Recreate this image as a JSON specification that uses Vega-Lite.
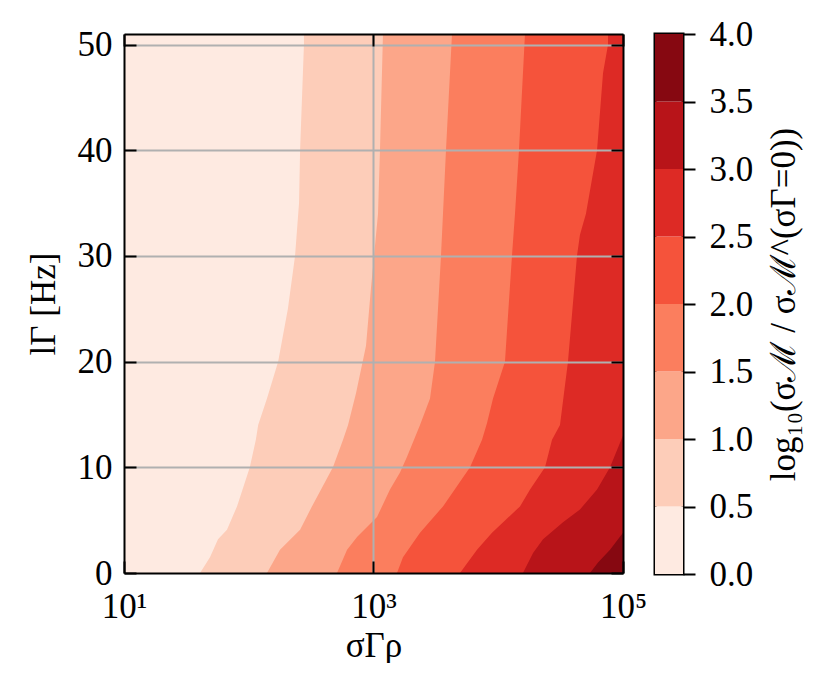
{
  "$schema": "https://vega.github.io/schema/vega-lite/v6.json",
  "padding": {"left": 26, "top": 15, "right": 0, "bottom": 0},
  "background": "white",
  "config": {
    "font": "Liberation Serif",
    "axis": {
      "labelFontSize": 35, "titleFontSize": 35, "labelColor": "black", "titleColor": "black",
      "tickColor": "black", "tickWidth": 2, "titleFontWeight": "normal",
      "gridColor": "#b0b0b0", "gridWidth": 2, "gridOpacity": 1,
      "domainColor": "black", "domainWidth": 2, "labelOverlap": false, "labelFlush": false
    }
  },
  "datasets": {
    "contours": [
      {"level": 0.5, "l": 0, "s": 40.7}, {"level": 0.5, "l": 1.5, "s": 48.9}, {"level": 0.5, "l": 3.2, "s": 56.7},
      {"level": 0.5, "l": 4.1, "s": 66.9}, {"level": 0.5, "l": 6.3, "s": 80.5}, {"level": 0.5, "l": 10, "s": 102},
      {"level": 0.5, "l": 12.6, "s": 114}, {"level": 0.5, "l": 14, "s": 119}, {"level": 0.5, "l": 16.5, "s": 140},
      {"level": 0.5, "l": 20, "s": 172}, {"level": 0.5, "l": 25, "s": 206}, {"level": 0.5, "l": 30, "s": 235},
      {"level": 0.5, "l": 35, "s": 253}, {"level": 0.5, "l": 40, "s": 258}, {"level": 0.5, "l": 50, "s": 277},
      {"level": 0.5, "l": 51, "s": 277},
      {"level": 1.0, "l": 0, "s": 140}, {"level": 1.0, "l": 2.2, "s": 178}, {"level": 1.0, "l": 4.1, "s": 258},
      {"level": 1.0, "l": 6.3, "s": 321}, {"level": 1.0, "l": 10, "s": 473}, {"level": 1.0, "l": 12.6, "s": 570},
      {"level": 1.0, "l": 14, "s": 625}, {"level": 1.0, "l": 17, "s": 724}, {"level": 1.0, "l": 21.5, "s": 871},
      {"level": 1.0, "l": 27, "s": 955}, {"level": 1.0, "l": 34, "s": 1087}, {"level": 1.0, "l": 40, "s": 1127},
      {"level": 1.0, "l": 51, "s": 1191},
      {"level": 1.5, "l": 0, "s": 510}, {"level": 1.5, "l": 2.2, "s": 614}, {"level": 1.5, "l": 3.4, "s": 738},
      {"level": 1.5, "l": 5.3, "s": 1067}, {"level": 1.5, "l": 7.9, "s": 1356}, {"level": 1.5, "l": 9.5, "s": 1631},
      {"level": 1.5, "l": 11, "s": 1857}, {"level": 1.5, "l": 14, "s": 2360}, {"level": 1.5, "l": 16.5, "s": 2838},
      {"level": 1.5, "l": 20, "s": 3112}, {"level": 1.5, "l": 30, "s": 3475}, {"level": 1.5, "l": 34, "s": 3606},
      {"level": 1.5, "l": 40, "s": 3811}, {"level": 1.5, "l": 51, "s": 4259},
      {"level": 2.0, "l": 0, "s": 1543}, {"level": 2.0, "l": 1.5, "s": 1723}, {"level": 2.0, "l": 3.8, "s": 2360},
      {"level": 2.0, "l": 6.3, "s": 3606}, {"level": 2.0, "l": 10, "s": 5940}, {"level": 2.0, "l": 12.6, "s": 7413},
      {"level": 2.0, "l": 14.2, "s": 8130}, {"level": 2.0, "l": 16.5, "s": 9080}, {"level": 2.0, "l": 20, "s": 11320},
      {"level": 2.0, "l": 30, "s": 12880}, {"level": 2.0, "l": 34, "s": 13620}, {"level": 2.0, "l": 40, "s": 14660},
      {"level": 2.0, "l": 51, "s": 16380},
      {"level": 2.5, "l": 0, "s": 4935}, {"level": 2.5, "l": 2.2, "s": 6760}, {"level": 2.5, "l": 3.8, "s": 8913},
      {"level": 2.5, "l": 6.3, "s": 14930}, {"level": 2.5, "l": 7.9, "s": 17990}, {"level": 2.5, "l": 10, "s": 23710},
      {"level": 2.5, "l": 12.6, "s": 26980}, {"level": 2.5, "l": 14, "s": 31260}, {"level": 2.5, "l": 17, "s": 33650},
      {"level": 2.5, "l": 20, "s": 36220}, {"level": 2.5, "l": 30, "s": 42760}, {"level": 2.5, "l": 32, "s": 45190},
      {"level": 2.5, "l": 34, "s": 50470}, {"level": 2.5, "l": 40, "s": 61940}, {"level": 2.5, "l": 47.3, "s": 69180},
      {"level": 2.5, "l": 50, "s": 75860}, {"level": 2.5, "l": 51, "s": 75860},
      {"level": 3.0, "l": 0, "s": 15780}, {"level": 3.0, "l": 1.9, "s": 19010}, {"level": 3.0, "l": 3.2, "s": 22860},
      {"level": 3.0, "l": 4.8, "s": 33040}, {"level": 3.0, "l": 6.0, "s": 45190}, {"level": 3.0, "l": 7.9, "s": 61940},
      {"level": 3.0, "l": 10, "s": 78700}, {"level": 3.0, "l": 13, "s": 100000},
      {"level": 3.5, "l": 0, "s": 54330}, {"level": 3.5, "l": 1.0, "s": 63100}, {"level": 3.5, "l": 2.2, "s": 78700},
      {"level": 3.5, "l": 3.8, "s": 100000}
    ],
    "bands": [
      {"lo": 0.0, "hi": 0.5}, {"lo": 0.5, "hi": 1.0}, {"lo": 1.0, "hi": 1.5}, {"lo": 1.5, "hi": 2.0},
      {"lo": 2.0, "hi": 2.5}, {"lo": 2.5, "hi": 3.0}, {"lo": 3.0, "hi": 3.5}, {"lo": 3.5, "hi": 4.0}
    ]
  },
  "spacing": 6,
  "hconcat": [
    {
      "width": 499,
      "height": 539,
      "view": {"fill": "#feeae1", "stroke": null},
      "data": {"name": "contours"},
      "resolve": {"axis": {"x": "independent", "y": "independent"}},
      "layer": [
        {
          "transform": [{"filter": "datum.level == 0.5"}],
          "mark": {"type": "area", "orient": "horizontal", "color": "#fdcdb9", "clip": true},
          "encoding": {
            "y": {"field": "l", "type": "quantitative", "scale": {"domain": [0, 51], "nice": false, "zero": false},
              "axis": {"orient": "left", "values": [0, 10, 20, 30, 40, 50], "tickSize": -12, "labelPadding": 24,
                "grid": true, "gridColor": {"condition": {"test": "datum.value > 0", "value": "#b0b0b0"}, "value": "transparent"},
                "domain": true, "title": "lΓ [Hz]", "titlePadding": 16, "zindex": 1}},
            "x": {"field": "s", "type": "quantitative", "stack": null,
              "scale": {"type": "log", "domain": [10, 100000], "nice": false},
              "axis": {"orient": "bottom", "values": [10, 1000, 100000],
                "labelExpr": "datum.value == 10 ? '10¹' : (datum.value == 1000 ? '10³' : '10⁵')",
                "tickSize": -12, "labelPadding": 28, "grid": true,
                "gridColor": {"condition": {"test": "datum.value == 1000", "value": "#b0b0b0"}, "value": "transparent"},
                "domain": true, "title": "σΓρ", "titlePadding": 4, "zindex": 1}},
            "x2": {"datum": 100000}
          }
        },
        {
          "transform": [{"filter": "datum.level == 1.0"}],
          "mark": {"type": "area", "orient": "horizontal", "color": "#fca689", "clip": true},
          "encoding": {
            "y": {"field": "l", "type": "quantitative",
              "axis": {"orient": "right", "values": [0, 10, 20, 30, 40, 50], "tickSize": -12, "labels": false,
                "grid": false, "domain": true, "title": null, "zindex": 1}},
            "x": {"field": "s", "type": "quantitative", "stack": null,
              "axis": {"orient": "top", "values": [10, 1000, 100000], "tickSize": -12, "labels": false,
                "grid": false, "domain": true, "title": null, "zindex": 1}},
            "x2": {"datum": 100000}
          }
        },
        {
          "transform": [{"filter": "datum.level == 1.5"}],
          "mark": {"type": "area", "orient": "horizontal", "color": "#fb7e5e", "clip": true},
          "encoding": {
            "y": {"field": "l", "type": "quantitative", "axis": null},
            "x": {"field": "s", "type": "quantitative", "stack": null, "axis": null},
            "x2": {"datum": 100000}
          }
        },
        {
          "transform": [{"filter": "datum.level == 2.0"}],
          "mark": {"type": "area", "orient": "horizontal", "color": "#f5533b", "clip": true},
          "encoding": {
            "y": {"field": "l", "type": "quantitative", "axis": null},
            "x": {"field": "s", "type": "quantitative", "stack": null, "axis": null},
            "x2": {"datum": 100000}
          }
        },
        {
          "transform": [{"filter": "datum.level == 2.5"}],
          "mark": {"type": "area", "orient": "horizontal", "color": "#dd2a25", "clip": true},
          "encoding": {
            "y": {"field": "l", "type": "quantitative", "axis": null},
            "x": {"field": "s", "type": "quantitative", "stack": null, "axis": null},
            "x2": {"datum": 100000}
          }
        },
        {
          "transform": [{"filter": "datum.level == 3.0"}],
          "mark": {"type": "area", "orient": "horizontal", "color": "#b81419", "clip": true},
          "encoding": {
            "y": {"field": "l", "type": "quantitative", "axis": null},
            "x": {"field": "s", "type": "quantitative", "stack": null, "axis": null},
            "x2": {"datum": 100000}
          }
        },
        {
          "transform": [{"filter": "datum.level == 3.5"}],
          "mark": {"type": "area", "orient": "horizontal", "color": "#860811", "clip": true},
          "encoding": {
            "y": {"field": "l", "type": "quantitative", "axis": null},
            "x": {"field": "s", "type": "quantitative", "stack": null, "axis": null},
            "x2": {"datum": 100000}
          }
        }
      ]
    },
    {
      "width": 28,
      "height": 540,
      "view": {"stroke": "black", "strokeWidth": 3},
      "data": {"name": "bands"},
      "mark": {"type": "rect"},
      "encoding": {
        "y": {"field": "lo", "type": "quantitative", "scale": {"domain": [0, 4], "nice": false, "zero": false},
          "axis": {"orient": "right", "values": [0, 0.5, 1, 1.5, 2, 2.5, 3, 3.5, 4], "format": ".1f",
            "tickSize": 12, "labelPadding": 14, "grid": false, "domain": false,
            "title": "log₁₀(σℳ / σℳ^(σΓ=0))", "titleAngle": -90, "titleBaseline": "top", "titlePadding": 14}},
        "y2": {"field": "hi"},
        "color": {"field": "lo", "type": "ordinal",
          "scale": {"domain": [0, 0.5, 1, 1.5, 2, 2.5, 3, 3.5],
            "range": ["#feeae1", "#fdcdb9", "#fca689", "#fb7e5e", "#f5533b", "#dd2a25", "#b81419", "#860811"]},
          "legend": null}
      }
    }
  ]
}
